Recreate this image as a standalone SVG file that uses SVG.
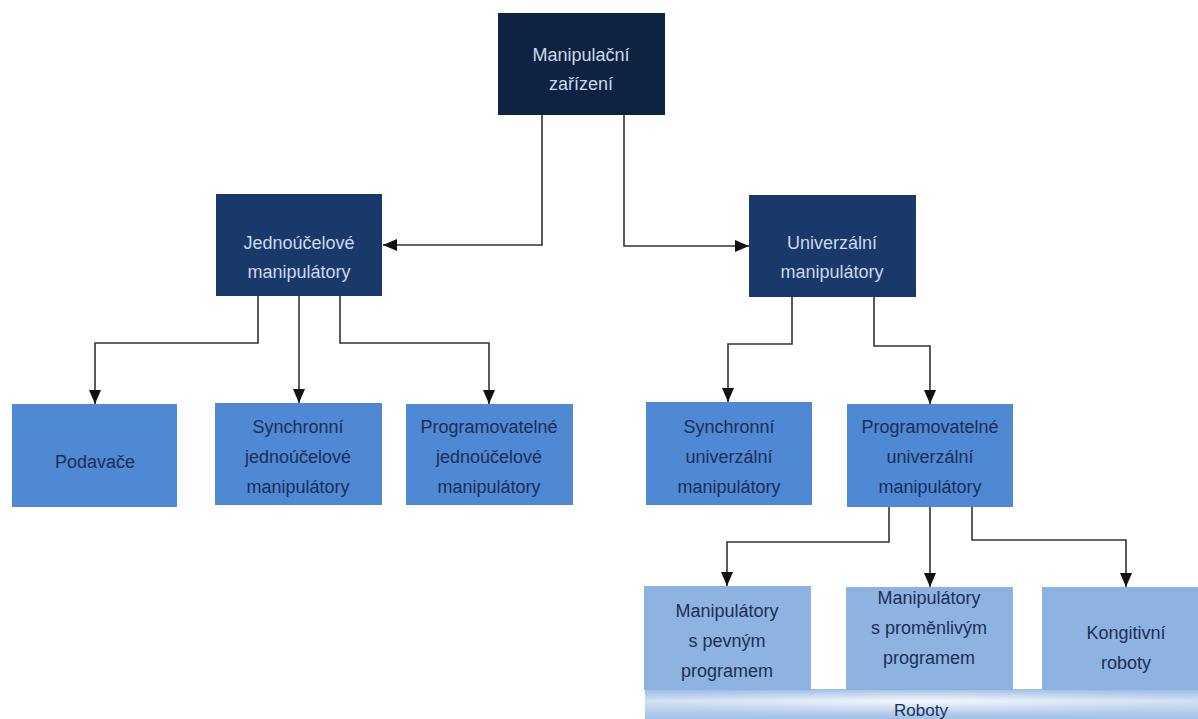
<svg xmlns="http://www.w3.org/2000/svg" width="1198" height="719" viewBox="0 0 1198 719">
<style>
.top{fill:#0e2342}
.l2{fill:#18396a}
.l3{fill:#4f88d3}
.l4{fill:#8fb3e0}
text{font-family:"Liberation Sans",Arial,sans-serif;font-size:18px;text-anchor:middle}
.tl{fill:#cdd8ea}
.td{fill:#1b2f58}
.conn path{fill:none;stroke:#333;stroke-width:1.6}
</style>
<defs>
<marker id="arr" viewBox="0 0 14 12" refX="14" refY="6" markerWidth="14" markerHeight="12" markerUnits="userSpaceOnUse" orient="auto">
<path d="M0,0 L14,6 L0,12 z" fill="#111"/>
</marker>
<linearGradient id="bar" x1="0" y1="0" x2="0" y2="1">
<stop offset="0" stop-color="#9dbde6"/>
<stop offset="0.4" stop-color="#eef4fb"/>
<stop offset="1" stop-color="#a9c6ea"/>
</linearGradient>
<radialGradient id="glow" cx="0.5" cy="0.4" r="0.5">
<stop offset="0" stop-color="#ffffff" stop-opacity="0.8"/>
<stop offset="1" stop-color="#8fb3e0" stop-opacity="0.6"/>
</radialGradient>
</defs>
<rect width="1198" height="719" fill="#fff"/>

<g class="conn">
<path d="M542,115 V245 H383" marker-end="url(#arr)"/>
<path d="M624,115 V246 H749" marker-end="url(#arr)"/>
<path d="M258,296 V343 H95 V404" marker-end="url(#arr)"/>
<path d="M299,296 V403" marker-end="url(#arr)"/>
<path d="M340,296 V343 H489 V404" marker-end="url(#arr)"/>
<path d="M792,297 V344 H728 V402" marker-end="url(#arr)"/>
<path d="M874,297 V346 H930 V404" marker-end="url(#arr)"/>
<path d="M889,507 V542 H727 V586" marker-end="url(#arr)"/>
<path d="M930,507 V587" marker-end="url(#arr)"/>
<path d="M972,507 V540 H1126 V587" marker-end="url(#arr)"/>
</g>

<g id="roboty">
<rect x="645" y="689" width="553" height="30" fill="url(#bar)"/>
<rect x="645" y="689" width="553" height="30" fill="url(#glow)" opacity="0.5"/>
<text x="921" y="716" class="td" style="font-size:17px">Roboty</text>
</g>

<g id="manipulacni-zarizeni">
<rect x="498" y="13" width="167" height="102" class="top"/>
<text x="581" y="61" class="tl">Manipulační</text>
<text x="581" y="90" class="tl">zařízení</text>
</g>

<g id="jednoucelove">
<rect x="216" y="194" width="166" height="102" class="l2"/>
<text x="299" y="249" class="tl">Jednoúčelové</text>
<text x="299" y="278" class="tl">manipulátory</text>
</g>

<g id="univerzalni">
<rect x="749" y="195" width="167" height="102" class="l2"/>
<text x="832" y="249" class="tl">Univerzální</text>
<text x="832" y="278" class="tl">manipulátory</text>
</g>

<g id="podavace">
<rect x="12" y="404" width="165" height="103" class="l3"/>
<text x="95" y="468" class="td">Podavače</text>
</g>

<g id="synchronni-jednoucelove">
<rect x="215" y="403" width="167" height="102" class="l3"/>
<text x="298" y="433" class="td">Synchronní</text>
<text x="298" y="463" class="td">jednoúčelové</text>
<text x="298" y="493" class="td">manipulátory</text>
</g>

<g id="programovatelne-jednoucelove">
<rect x="406" y="404" width="167" height="101" class="l3"/>
<text x="489" y="433" class="td">Programovatelné</text>
<text x="489" y="463" class="td">jednoúčelové</text>
<text x="489" y="493" class="td">manipulátory</text>
</g>

<g id="synchronni-univerzalni">
<rect x="646" y="402" width="166" height="103" class="l3"/>
<text x="729" y="433" class="td">Synchronní</text>
<text x="729" y="463" class="td">univerzální</text>
<text x="729" y="493" class="td">manipulátory</text>
</g>

<g id="programovatelne-univerzalni">
<rect x="847" y="404" width="166" height="103" class="l3"/>
<text x="930" y="433" class="td">Programovatelné</text>
<text x="930" y="463" class="td">univerzální</text>
<text x="930" y="493" class="td">manipulátory</text>
</g>

<g id="pevny-program">
<rect x="644" y="586" width="167" height="104" class="l4"/>
<text x="727" y="617" class="td">Manipulátory</text>
<text x="727" y="647" class="td">s pevným</text>
<text x="727" y="677" class="td">programem</text>
</g>

<g id="promenlivy-program">
<rect x="846" y="587" width="167" height="103" class="l4"/>
<text x="929" y="604" class="td">Manipulátory</text>
<text x="929" y="634" class="td">s proměnlivým</text>
<text x="929" y="664" class="td">programem</text>
</g>

<g id="kongitivni">
<rect x="1042" y="587" width="156" height="103" class="l4"/>
<text x="1126" y="639" class="td">Kongitivní</text>
<text x="1126" y="669" class="td">roboty</text>
</g>
</svg>
